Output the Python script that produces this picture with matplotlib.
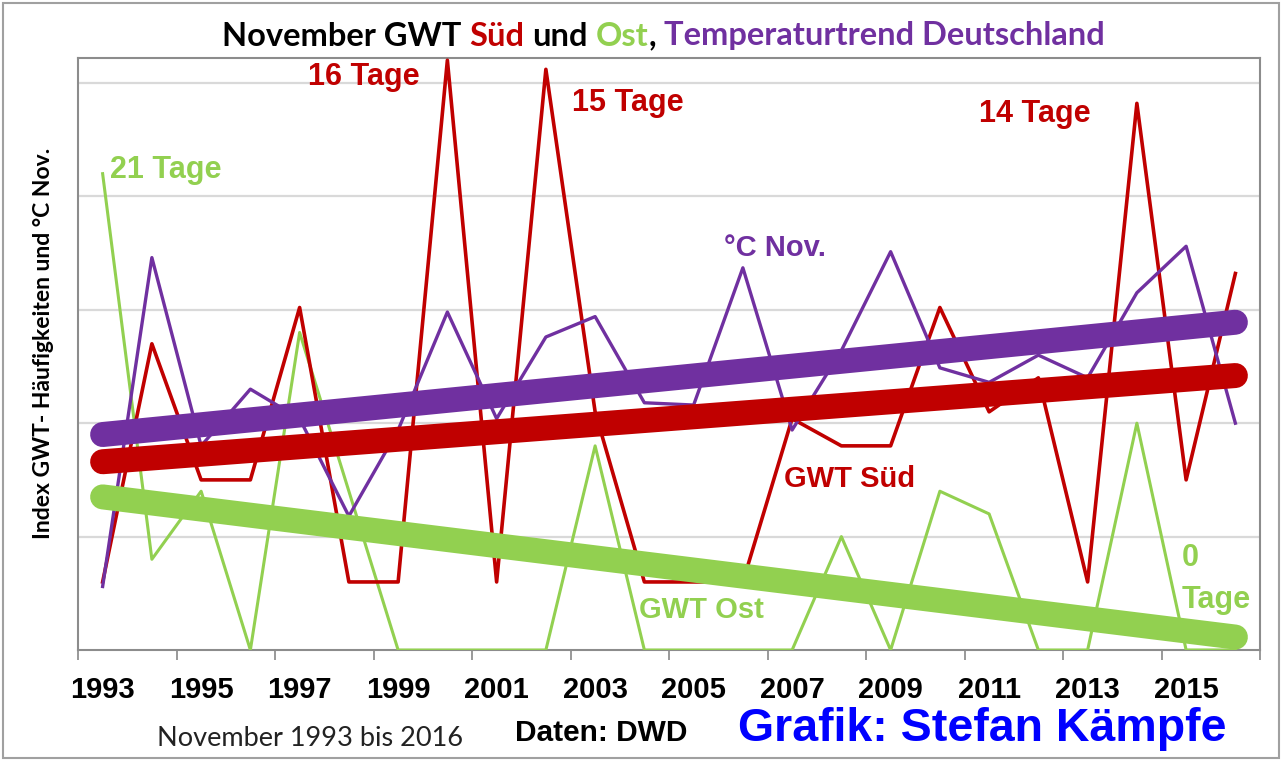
import matplotlib
matplotlib.use("Agg")
from matplotlib import pyplot as plt
from matplotlib.patches import Rectangle

# Daten
jahre = list(range(1993, 2017))
sued = [3.0, 13.5, 7.5, 7.5, 15.1, 3.0, 3.0, 26.0, 3.0, 25.6, 10.5, 3.0,
        3.0, 3.0, 10.2, 9.0, 9.0, 15.1, 10.5, 12.0, 3.0, 24.1, 7.5, 16.6]
ost = [21, 4, 7, 0, 14, 7, 0, 0, 0, 0, 9, 0, 0, 0, 0, 5, 0, 7, 6, 0, 0, 10, 0, 0]
temp = [2.8, 17.3, 9.0, 11.5, 10.2, 5.9, 9.7, 14.9, 10.2, 13.8, 14.7, 10.9,
        10.8, 16.85, 9.7, 13.2, 17.56, 12.44, 11.8, 13.0, 12.0, 15.75, 17.8, 10.0]
trend_jahre = [1993, 2016]
trend_sued = [8.3, 12.1]
trend_ost = [6.75, 0.57]
trend_temp = [9.5, 14.45]
tick_labels = [str(j) for j in range(1993, 2016, 2)]

rot = "#C00000"
gruen = "#92D050"
lila = "#7030A0"

W, H = 1283, 760
fig = plt.figure(figsize=(W / 100, H / 100), dpi=100)
ax = fig.add_axes([78 / W, 110 / H, (1260 - 78) / W, (650 - 58) / H])

x = [j - 1993 for j in jahre]
xt = [j - 1993 for j in trend_jahre]

ax.plot(x, ost, color=gruen, lw=2.2, zorder=3)
ax.plot(x, sued, color=rot, lw=2.6, zorder=3)
ax.plot(x, temp, color=lila, lw=2.4, zorder=3)
ax.plot(xt, trend_ost, color=gruen, lw=18, solid_capstyle="round", zorder=4)
ax.plot(xt, trend_sued, color=rot, lw=18, solid_capstyle="round", zorder=4)
ax.plot(xt, trend_temp, color=lila, lw=18, solid_capstyle="round", zorder=4)

ax.set_xlim(-0.5, 23.5)
ax.set_ylim(0, 26.1)
ax.set_yticks([5, 10, 15, 20, 25])
ax.yaxis.grid(True, color="#D9D9D9", lw=1.6)
ax.set_axisbelow(True)
ax.tick_params(axis="y", left=False, labelleft=False)

ax.set_xticks([i - 0.5 for i in range(0, 25, 2)])
ax.set_xticklabels([])
ax.tick_params(axis="x", which="major", direction="out", length=7, width=1.2, color="#888888")
ax.set_xticks(list(range(0, 24, 2)), minor=True)
ax.set_xticklabels(tick_labels, minor=True, fontsize=21, fontweight="bold",
                   family="Liberation Sans")
ax.tick_params(axis="x", which="minor", length=0, pad=19)
for s in ax.spines.values():
    s.set_color("#8C8C8C")
    s.set_linewidth(1.5)

def ftext(px, py, s, color, size=22, weight="bold", fam="Liberation Sans", **kw):
    return fig.text(px / W, 1 - py / H, s, color=color, fontsize=size, fontweight=weight,
                    family=fam, va="center", ha="left", **kw)

ftext(110, 170, "21 Tage", gruen)
ftext(308, 77, "16 Tage", rot)
ftext(572, 103, "15 Tage", rot)
ftext(979, 114, "14 Tage", rot)
ftext(724, 248, "°C Nov.", lila, size=21)
ftext(784, 479, "GWT Süd", rot, size=21)
ftext(639, 610, "GWT Ost", gruen, size=21)
ftext(1182, 558, "0", gruen)
ftext(1182, 600, "Tage", gruen)

ftext(157, 738, "November 1993 bis 2016", "#222222", size=19.5, weight="normal", fam="Lato")
ftext(515, 733, "Daten: DWD", "black", size=21.5)
ftext(738, 729, "Grafik: Stefan Kämpfe", "#0000FF", size=33.5)

fig.text(44 / W, 1 - 343 / H, "Index GWT- Häufigkeiten und °C Nov.", rotation=90,
         fontsize=16.5, fontweight="bold", family="Lato", va="center", ha="center")

# Titel in mehreren Farben
teile = [("November GWT", "black", 0), ("Süd", rot, 1), ("und", "black", 1),
         ("Ost", gruen, 1), (",", "black", 0), ("Temperaturtrend Deutschland", lila, 1)]
tsize = 23.5
leer = 0.24 * tsize
prev = ftext(222, 36, teile[0][0], teile[0][1], size=tsize, fam="Lato")
for s, c, g in teile[1:]:
    prev = ax.annotate(s, xy=(1, 0), xycoords=prev, xytext=(g * leer, 0),
                       textcoords="offset points", va="bottom", ha="left", color=c,
                       fontsize=tsize, fontweight="bold", family="Lato",
                       annotation_clip=False)

fig.patches.append(Rectangle((0.002, 0.003), 0.995, 0.993, transform=fig.transFigure,
                             fill=False, ec="#A0A0A0", lw=1.5))

fig.savefig("out.png", dpi=100)
